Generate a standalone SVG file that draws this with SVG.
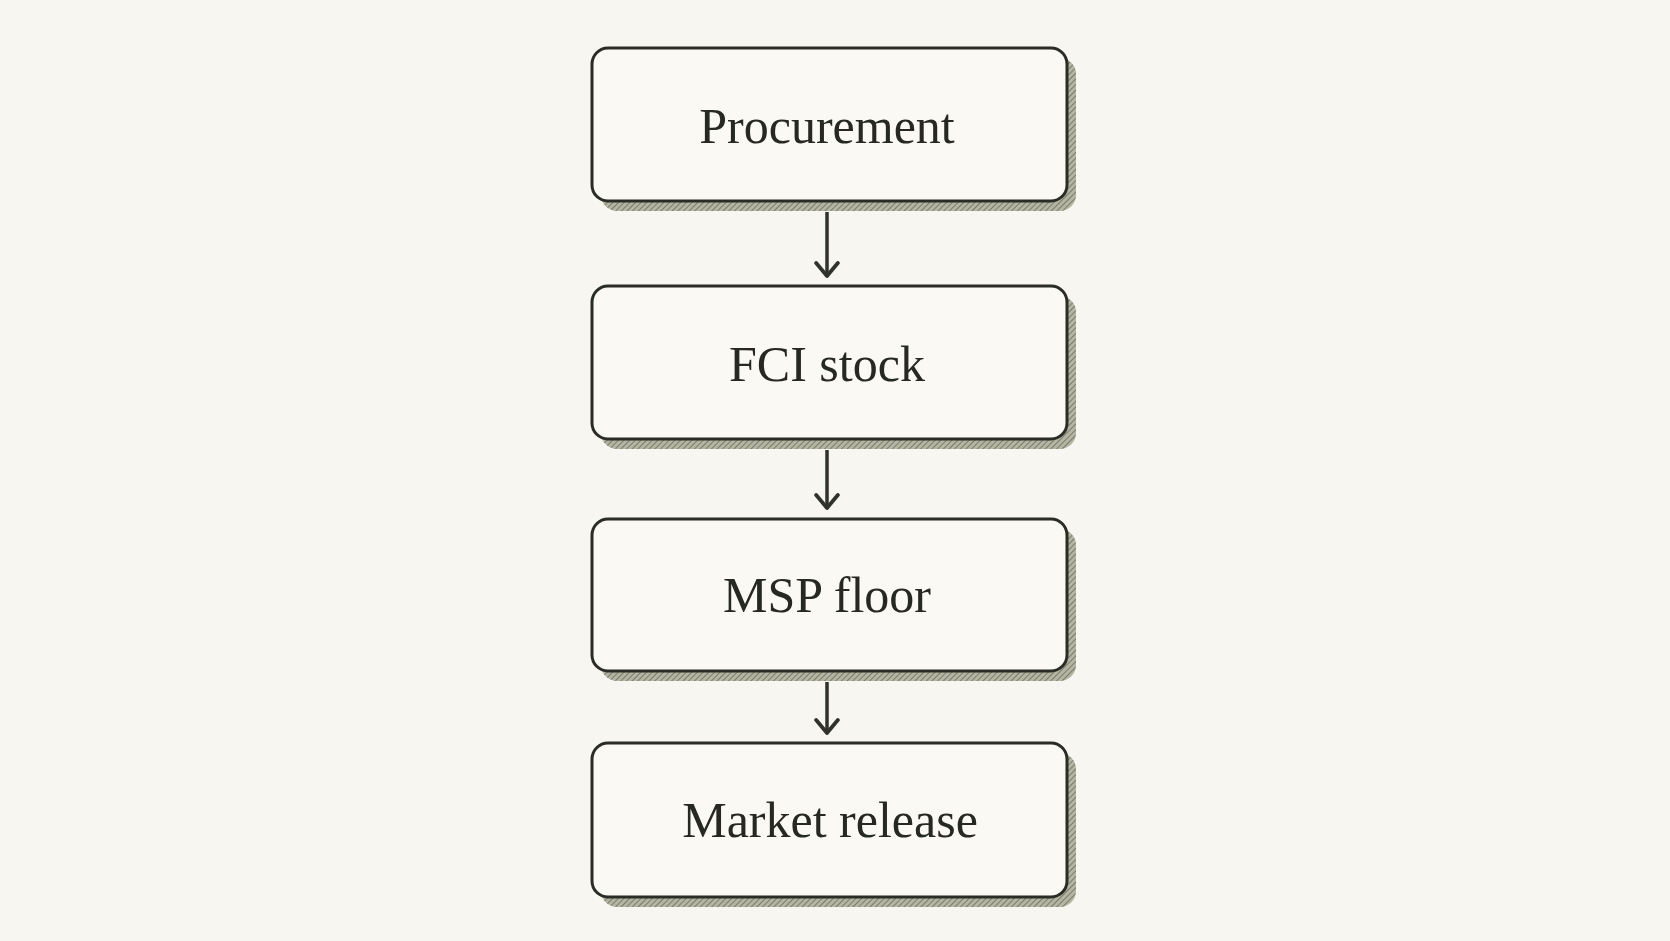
<svg xmlns="http://www.w3.org/2000/svg" width="1670" height="941" viewBox="0 0 1670 941">
<defs>
<pattern id="h" width="4" height="4" patternUnits="userSpaceOnUse" patternTransform="rotate(45)"><rect width="4" height="4" fill="#b4b5a2"/><line x1="0" y1="0" x2="0" y2="4" stroke="#65695a" stroke-width="1.5"/></pattern>
<marker id="a" viewBox="0 0 24 20" refX="12" refY="17" markerWidth="26" markerHeight="22" markerUnits="userSpaceOnUse" orient="0"><path d="M2,5 L12,17 L22,5" fill="none" stroke="#2f3329" stroke-width="3.5" stroke-linecap="round" stroke-linejoin="round"/></marker>
</defs>
<style>
.s{fill:url(#h)}
.b{fill:#fbf9f3;stroke:#2a2d25;stroke-width:3}
.t{font-family:"Liberation Serif",serif;font-size:50px;fill:#262822;text-anchor:middle}
.c{stroke:#2f3329;stroke-width:3.5;fill:none}
</style>
<rect width="1670" height="941" fill="#f8f6f0"/>
<g id="connectors">
<line class="c" x1="827" y1="212" x2="827" y2="276" marker-end="url(#a)"/>
<line class="c" x1="827" y1="450" x2="827" y2="508" marker-end="url(#a)"/>
<line class="c" x1="827" y1="682" x2="827" y2="733" marker-end="url(#a)"/>
</g>
<g id="n1"><rect class="s" x="601" y="58" width="475" height="153" rx="16"/><rect class="b" x="592" y="48" width="475" height="153" rx="16"/><text class="t" x="827" y="143">Procurement</text></g>
<g id="n2"><rect class="s" x="601" y="296" width="475" height="153" rx="16"/><rect class="b" x="592" y="286" width="475" height="153" rx="16"/><text class="t" x="827" y="381">FCI stock</text></g>
<g id="n3"><rect class="s" x="601" y="529" width="475" height="152" rx="16"/><rect class="b" x="592" y="519" width="475" height="152" rx="16"/><text class="t" x="827" y="612">MSP floor</text></g>
<g id="n4"><rect class="s" x="601" y="753" width="475" height="154" rx="16"/><rect class="b" x="592" y="743" width="475" height="154" rx="16"/><text class="t" x="830" y="837">Market release</text></g>
</svg>
